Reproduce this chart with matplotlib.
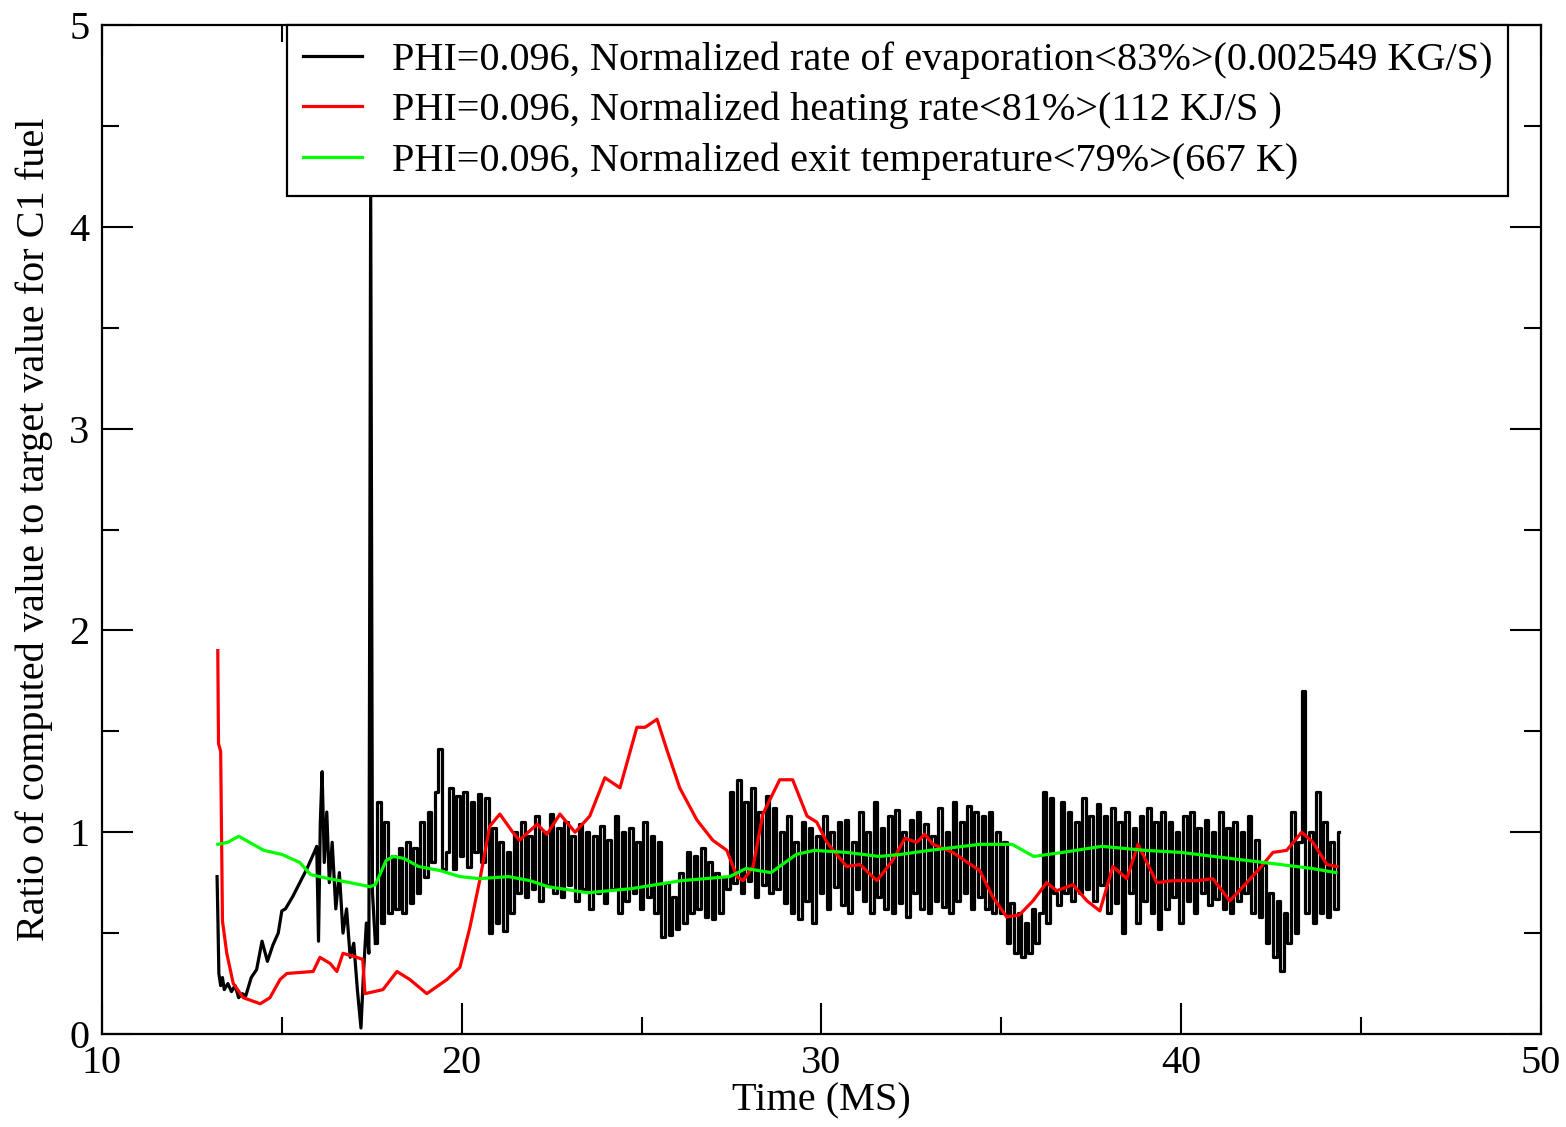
import matplotlib.pyplot as plt
import numpy as np

plt.rcParams['font.family'] = ['Liberation Serif', 'DejaVu Serif']

# evaporation rate (black), smooth early part then noisy part on a 0.1 ms grid
evap_t_early = [13.2, 13.22, 13.25, 13.3, 13.35, 13.4, 13.5, 13.6, 13.7, 13.8, 13.9, 14.0,
                14.15, 14.3, 14.45, 14.6, 14.75, 14.9, 15.0, 15.1, 15.3, 15.5, 15.7, 15.9,
                15.97, 16.02, 16.07, 16.12, 16.18, 16.25, 16.32, 16.4, 16.5, 16.6, 16.7,
                16.8, 16.9, 17.0, 17.1, 17.2, 17.27, 17.35, 17.42, 17.47, 17.52]
evap_v_early = [0.78, 0.60, 0.30, 0.24, 0.28, 0.22, 0.25, 0.21, 0.24, 0.18, 0.20, 0.19,
                0.28, 0.32, 0.46, 0.36, 0.44, 0.50, 0.61, 0.62, 0.68, 0.75, 0.82, 0.90,
                0.93, 0.46, 1.05, 1.30, 0.85, 1.10, 0.75, 0.95, 0.62, 0.80, 0.50,
                0.62, 0.38, 0.45, 0.22, 0.03, 0.30, 0.55, 0.40, 4.20, 0.70]

evap_noisy_start = 17.6
evap_noisy_step = 0.1
evap_v_noisy = [
    0.45, 1.15, 0.55, 1.05, 0.60, 0.88, 0.62, 0.92, 0.60, 0.95,
    0.65, 0.92, 0.70, 1.05, 0.78, 1.10, 0.85, 1.20, 1.41, 0.82,
    0.90, 1.22, 0.82, 1.18, 0.88, 1.20, 0.83, 1.15, 0.90, 1.19,
    0.85, 1.17, 0.50, 1.02, 0.55, 0.95, 0.51, 0.90, 0.60, 1.00,
    0.70, 1.05, 0.68, 0.98, 0.72, 1.08, 0.66, 1.00, 0.74, 1.09,
    0.70, 1.02, 0.68, 1.05, 0.74, 0.98, 0.66, 1.04, 0.72, 1.00,
    0.62, 0.98, 0.70, 1.03, 0.65, 0.96, 0.72, 1.08, 0.60, 1.00,
    0.66, 1.02, 0.70, 0.95, 0.62, 1.05, 0.68, 0.98, 0.60, 0.95,
    0.48, 0.75, 0.49, 0.68, 0.52, 0.80, 0.55, 0.90, 0.60, 0.88,
    0.62, 0.92, 0.58, 0.85, 0.57, 0.80, 0.60, 0.78, 0.72, 1.20,
    0.75, 1.26, 0.70, 1.15, 0.76, 1.22, 0.68, 1.10, 0.74, 1.18,
    0.70, 1.12, 0.72, 1.00, 0.65, 1.08, 0.60, 0.95, 0.57, 1.05,
    0.66, 1.02, 0.55, 0.98, 0.70, 1.08, 0.62, 1.00, 0.73, 1.05,
    0.64, 1.06, 0.60, 0.95, 0.72, 1.10, 0.66, 1.00, 0.60, 1.15,
    0.68, 1.02, 0.62, 1.08, 0.60, 1.11, 0.65, 1.00, 0.58, 1.06,
    0.70, 1.10, 0.62, 1.04, 0.60, 0.98, 0.66, 1.12, 0.63, 1.00,
    0.60, 1.15, 0.66, 1.05, 0.70, 1.13, 0.62, 1.10, 0.68, 1.08,
    0.62, 1.10, 0.60, 1.00, 0.60, 0.95, 0.45, 0.65, 0.40, 0.60,
    0.38, 0.55, 0.40, 0.62, 0.45, 0.60, 1.20, 0.55, 1.17, 0.70,
    0.64, 1.15, 0.70, 1.10, 0.66, 1.05, 0.70, 1.17, 0.72, 1.08,
    0.66, 1.14, 0.74, 1.08, 0.60, 1.12, 0.65, 1.05, 0.50, 1.10,
    0.70, 1.02, 0.55, 1.08, 0.66, 1.12, 0.60, 1.05, 0.52, 1.10,
    0.62, 1.05, 0.68, 1.00, 0.55, 1.08, 0.66, 1.10, 0.60, 1.02,
    0.70, 1.06, 0.64, 1.00, 0.67, 1.10, 0.62, 1.02, 0.60, 1.05,
    0.66, 1.00, 0.70, 1.08, 0.60, 0.96, 0.58, 0.84, 0.45, 0.70,
    0.38, 0.66, 0.31, 0.60, 0.45, 1.10, 0.50, 0.95, 1.70, 0.60,
    1.00, 0.55, 1.20, 0.60, 1.05, 0.58, 0.95, 0.62, 1.00,
]

# heating rate (red)
heat_t = [13.22, 13.24, 13.30, 13.35, 13.47, 13.65, 13.93, 14.4, 14.67, 14.95, 15.14,
          15.87, 16.06, 16.34, 16.53, 16.7, 17.08, 17.25, 17.31, 17.81, 18.2, 18.56,
          19.03, 19.59, 19.95, 20.23, 20.5, 20.78, 21.06, 21.42, 21.6, 22.1, 22.37,
          22.73, 23.15, 23.56, 23.98, 24.4, 24.87, 25.1, 25.43, 25.7, 26.06, 26.54,
          26.98, 27.37, 27.65, 27.82, 28.1, 28.37, 28.84, 29.2, 29.6, 29.87, 30.15,
          30.7, 31.07, 31.54, 31.98, 32.32, 32.65, 32.87, 33.1, 33.65, 34.4, 34.76,
          35.15, 35.5, 35.88, 36.26, 36.54, 36.99, 37.38, 37.74, 38.1, 38.49, 38.8,
          39.32, 39.77, 40.43, 40.88, 41.35, 41.82, 42.18, 42.55, 42.93, 43.35,
          43.66, 44.05, 44.33]
heat_v = [1.90, 1.44, 1.40, 0.56, 0.40, 0.25, 0.18, 0.15, 0.18, 0.27, 0.30,
          0.31, 0.38, 0.35, 0.31, 0.40, 0.38, 0.37, 0.20, 0.22, 0.31, 0.27,
          0.20, 0.27, 0.33, 0.53, 0.76, 1.03, 1.09, 1.00, 0.96, 1.04, 0.99,
          1.09, 1.00, 1.08, 1.27, 1.22, 1.52, 1.52, 1.56, 1.41, 1.22, 1.06,
          0.96, 0.91, 0.78, 0.76, 0.83, 1.09, 1.26, 1.26, 1.08, 1.05, 0.95,
          0.83, 0.84, 0.76, 0.86, 0.97, 0.95, 0.99, 0.94, 0.90, 0.81, 0.68,
          0.58, 0.59, 0.66, 0.75, 0.71, 0.74, 0.66, 0.61, 0.83, 0.77, 0.94,
          0.75, 0.76, 0.76, 0.77, 0.66, 0.75, 0.82, 0.90, 0.91, 1.00,
          0.95, 0.84, 0.83]

# exit temperature (green)
temp_t = [13.22, 13.5, 13.8, 14.1, 14.5, 15.0, 15.5, 15.8, 16.3, 16.9, 17.45, 17.6,
          17.9, 18.1, 18.4, 18.8, 19.4, 19.95, 20.5, 21.3, 21.9, 22.4, 23.5, 24.7,
          26.1, 27.45, 27.9, 28.6, 29.3, 29.8, 30.7, 31.6, 32.2, 33.0, 34.4, 35.3,
          35.9, 36.7, 37.8, 39.0, 40.0, 40.9, 42.3, 43.65, 44.3]
temp_v = [0.94, 0.95, 0.98, 0.95, 0.91, 0.89, 0.85, 0.79, 0.77, 0.75, 0.73, 0.74,
          0.86, 0.88, 0.87, 0.83, 0.81, 0.78, 0.77, 0.78, 0.76, 0.73, 0.70, 0.72,
          0.76, 0.78, 0.82, 0.80, 0.89, 0.91, 0.90, 0.88, 0.89, 0.91, 0.94, 0.94,
          0.88, 0.90, 0.93, 0.91, 0.90, 0.88, 0.85, 0.82, 0.80]

labels = ['PHI=0.096, Normalized rate of evaporation<83%>(0.002549 KG/S)',
          'PHI=0.096, Normalized heating rate<81%>(112 KJ/S )',
          'PHI=0.096, Normalized exit temperature<79%>(667 K)']

evap_t_noisy = [round(evap_noisy_start + i * evap_noisy_step, 2)
                for i in range(len(evap_v_noisy))]

fs = 29

fig = plt.figure(figsize=(15.66, 11.27), dpi=100)
ax = fig.add_axes([0.0651, 0.0825, 0.9189, 0.8953])

lw = 2.3
# early part drawn as a plain line, the noisy part held per sample like the solver output
ax.plot(evap_t_early + evap_t_noisy[:1], evap_v_early + evap_v_noisy[:1],
        color='black', lw=lw, label=labels[0])
ax.plot(evap_t_noisy, evap_v_noisy, color='black', lw=lw, drawstyle='steps-mid')
ax.plot(heat_t, heat_v, color='#ff0000', lw=lw, label=labels[1])
ax.plot(temp_t, temp_v, color='#00ff00', lw=lw, label=labels[2])

ax.set_xlim(10, 50)
ax.set_ylim(0, 5)
ax.set_xticks([10, 20, 30, 40, 50])
ax.set_xticks([15, 25, 35, 45], minor=True)
ax.set_yticks([0, 1, 2, 3, 4, 5])
ax.set_yticks(np.arange(0.5, 5, 1.0), minor=True)
ax.tick_params(which='both', direction='in', top=True, right=True, width=1.5,
               labelsize=fs)
ax.tick_params(which='major', length=22)
ax.tick_params(which='minor', length=12)
ax.tick_params(axis='x', pad=8)
ax.tick_params(axis='y', pad=9)
for s in ax.spines.values():
    s.set_linewidth(1.6)

ax.set_xlabel('Time (MS)', fontsize=fs, labelpad=0)
ax.set_ylabel('Ratio of computed value to target value for C1 fuel', fontsize=fs,
              labelpad=12)

leg = ax.legend(loc='upper left', bbox_to_anchor=(0.1286, 1.0), fontsize=fs,
                frameon=True, fancybox=False, framealpha=1, edgecolor='black',
                borderaxespad=0, handlelength=1.46, handletextpad=0.74,
                labelspacing=0.33, borderpad=0.4)
leg.get_frame().set_linewidth(1.6)

fig.savefig('out.png', dpi=100)
